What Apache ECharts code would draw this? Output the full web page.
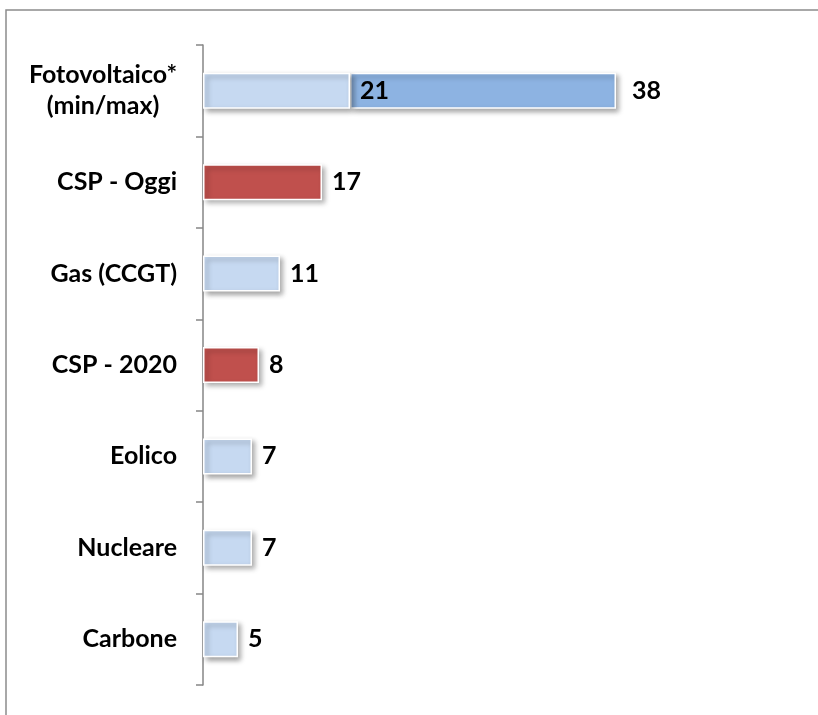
<!DOCTYPE html>
<html>
<head>
<meta charset="utf-8">
<script src="https://cdn.jsdelivr.net/npm/echarts@6/dist/echarts.min.js"></script>
<style>html,body{margin:0;padding:0;background:#fff}#c{width:818px;height:715px}</style>
</head>
<body>
<div id="c"></div>
<script>
const categories = ['Fotovoltaico*\n(min/max)', 'CSP - Oggi', 'Gas (CCGT)', 'CSP - 2020', 'Eolico', 'Nucleare', 'Carbone'];
const baseValues = [21, null, 11, null, 7, 7, 5];
const cspValues = [null, 17, null, 8, null, null, null];
const pvMaxValues = [38, null, null, null, null, null, null];

const FONT = 'Lato';
const labelStyle = {show: true, position: 'right', distance: 10, color: '#000', fontFamily: FONT, fontWeight: 'bold', fontSize: 25};
const shadow = {borderColor: '#fff', borderWidth: 1.5, shadowColor: 'rgba(0,0,0,0.35)', shadowBlur: 5, shadowOffsetX: 3, shadowOffsetY: 3};
const toData = arr => arr.map(v => v == null ? '-' : v);

const chart = echarts.init(document.getElementById('c'));
chart.setOption({
  animation: false,
  backgroundColor: '#fff',
  graphic: [{type: 'rect', shape: {x: 6, y: 10, width: 900, height: 800}, style: {fill: 'none', stroke: '#8c8c8c', lineWidth: 1.5}, z: -1}],
  grid: {left: 203, right: 55, top: 45, bottom: 30},
  xAxis: {type: 'value', min: 0, max: 80, show: false},
  yAxis: {
    type: 'category', inverse: true, data: categories,
    axisLine: {lineStyle: {color: '#868686', width: 1.5}},
    axisTick: {show: true, length: 7, lineStyle: {color: '#868686', width: 1.5}},
    axisLabel: {
      margin: 26, color: '#000', fontFamily: FONT, fontWeight: 'bold', fontSize: 25, lineHeight: 31, align: 'right',
      formatter: v => v.indexOf('\n') >= 0 ? v.split('\n').map(s => '{c|' + s + '}').join('\n') : v,
      rich: {c: {width: 148, align: 'center', color: '#000', fontFamily: FONT, fontWeight: 'bold', fontSize: 25, lineHeight: 31}}
    }
  },
  series: [
    {type: 'bar', name: 'base', stack: 's', barWidth: 36, z: 3, data: toData(baseValues),
      itemStyle: Object.assign({color: '#c6d9f1'}, shadow), label: labelStyle},
    {type: 'bar', name: 'csp', stack: 's', barWidth: 36, data: toData(cspValues),
      itemStyle: Object.assign({color: '#c0504d'}, shadow), label: labelStyle},
    {type: 'bar', name: 'pvmax', stack: 's', barWidth: 36, z: 2, data: toData(pvMaxValues),
      itemStyle: Object.assign({color: '#8db3e2'}, shadow), label: Object.assign({}, labelStyle, {distance: 16})}
  ]
});
</script>
</body>
</html>
